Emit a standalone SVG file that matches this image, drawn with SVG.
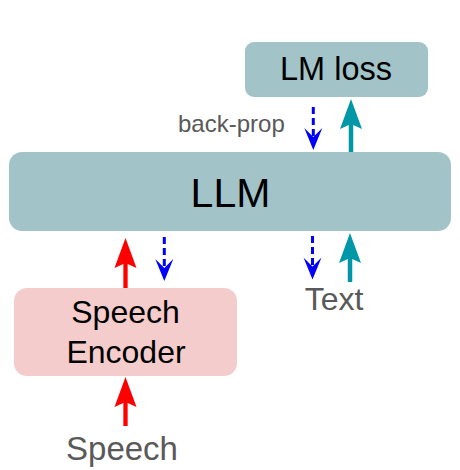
<svg xmlns="http://www.w3.org/2000/svg" width="460" height="470" viewBox="0 0 460 470">
  <style>
    .box-cyan { fill: #a2c4c9; }
    .box-red { fill: #f4cccc; }
    .t { font-family: "Liberation Sans", Arial, sans-serif; fill: #000; text-anchor: middle; }
    .lbl { font-family: "Liberation Sans", Arial, sans-serif; fill: #595959; }
    .red { stroke: #ff0000; stroke-width: 4.3; fill: none; }
    .teal { stroke: #0097a7; stroke-width: 4.5; fill: none; }
    .blue { stroke: #0000ff; stroke-width: 3; fill: none; stroke-dasharray: 7 4; }
  </style>
  <defs>
    <marker id="hRed" markerUnits="userSpaceOnUse" markerWidth="32" markerHeight="24" refX="5" refY="11.5" orient="auto" overflow="visible">
      <path d="M0,0.5 L30,11.5 L0,22.5 L5,11.5 Z" fill="#ff0000"/>
    </marker>
    <marker id="hTeal" markerUnits="userSpaceOnUse" markerWidth="32" markerHeight="24" refX="5" refY="11.5" orient="auto" overflow="visible">
      <path d="M0,0.5 L30,11.5 L0,22.5 L5,11.5 Z" fill="#0097a7"/>
    </marker>
    <marker id="hBlue" markerUnits="userSpaceOnUse" markerWidth="24" markerHeight="20" refX="9" refY="9" orient="auto" overflow="visible">
      <path d="M0,0 L22,9 L0,18 L9,9 Z" fill="#0000ff"/>
    </marker>
  </defs>

  <g id="lm-loss">
    <rect class="box-cyan" x="245" y="42" width="183" height="55" rx="9"/>
    <text class="t" x="336" y="80" font-size="32.5">LM loss</text>
  </g>

  <g id="llm">
    <rect class="box-cyan" x="9" y="152" width="442" height="79" rx="13"/>
    <text class="t" x="230.5" y="207" font-size="41">LLM</text>
  </g>

  <g id="speech-encoder">
    <rect class="box-red" x="14" y="288" width="223" height="88" rx="13"/>
    <text class="t" x="125.5" y="323" font-size="32">Speech</text>
    <text class="t" x="126" y="363" font-size="32">Encoder</text>
  </g>

  <g id="label-backprop">
    <text class="lbl" x="178" y="131.5" font-size="24">back-prop</text>
  </g>
  <g id="label-text">
    <text class="lbl" x="334" y="310" font-size="32" text-anchor="middle">Text</text>
  </g>
  <g id="label-speech">
    <text class="lbl" x="122" y="459.5" font-size="33" text-anchor="middle">Speech</text>
  </g>

  <g id="connectors">
    <line class="red" x1="125.5" y1="426" x2="125.5" y2="402" marker-end="url(#hRed)"/>
    <line class="red" x1="125.5" y1="288" x2="125.5" y2="263" marker-end="url(#hRed)"/>
    <line class="teal" x1="350" y1="282" x2="350" y2="258" marker-end="url(#hTeal)"/>
    <line class="teal" x1="351" y1="152" x2="351" y2="124" marker-end="url(#hTeal)"/>
    <line class="blue" x1="313.3" y1="107" x2="313.3" y2="137" marker-end="url(#hBlue)"/>
    <line class="blue" x1="164.3" y1="237" x2="164.3" y2="268" marker-end="url(#hBlue)"/>
    <line class="blue" x1="312.5" y1="236" x2="312.5" y2="266.5" marker-end="url(#hBlue)"/>
  </g>
</svg>
